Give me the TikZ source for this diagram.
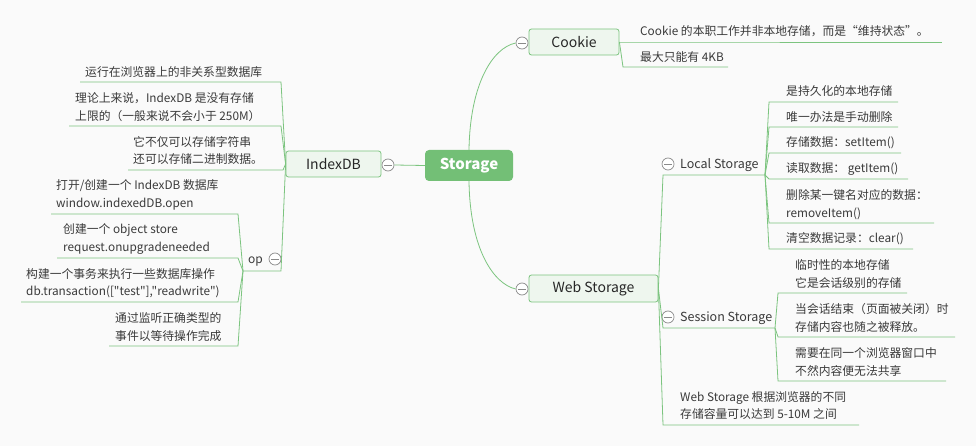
\documentclass[tikz,border=0pt]{standalone}
\usepackage{fontspec}
\setmainfont[Ligatures=TeXOff]{Noto Sans CJK SC}
\definecolor{lg}{HTML}{7CC47F}
\definecolor{nodefill}{HTML}{EEF6EE}
\definecolor{tx}{HTML}{3A3A3A}
\definecolor{stfill}{HTML}{73BF76}
\definecolor{bg}{HTML}{FAFAFA}
\definecolor{tg}{HTML}{8A8A8A}
\begin{document}
\begin{tikzpicture}[x=1pt,y=-1pt,
  ln/.style={draw=lg, line width=0.8pt},
  leaf/.style={anchor=west, inner sep=0pt, align=left, text=tx, font=\fontsize{11.8}{17.5}\selectfont},
  sub/.style={anchor=west, inner sep=0pt, text=tx, font=\fontsize{12.5}{15}\selectfont},
  topic/.style={draw=lg, fill=nodefill, rounded corners=2.5pt, line width=0.8pt, text=black!85, font=\fontsize{14}{16}\selectfont, inner sep=0pt},
  tog/.style={circle, draw=tg, fill=white, minimum size=12pt, inner sep=0pt, line width=0.7pt,
    path picture={\draw[tg, line width=0.7pt] ([xshift=-4pt]path picture bounding box.center) -- ([xshift=4pt]path picture bounding box.center);}}
]
\fill[bg] (0,0) rectangle (976,446);
\useasboundingbox (0,0) rectangle (976,446);

% central
\node[fill=stfill, rounded corners=4pt, minimum width=88pt, minimum height=31pt, inner sep=0pt, text=white, font=\fontsize{15}{17}\selectfont\bfseries] (st) at (469,165.5) {Storage};

% main topics
\node[topic, minimum width=95pt, minimum height=26pt] (idx) at (333.5,164) {IndexDB};
\node[topic, minimum width=90pt, minimum height=26pt] (ck) at (574,42) {Cookie};
\node[topic, minimum width=129pt, minimum height=27pt] (ws) at (593.5,288.5) {Web Storage};

\node[tog] (tIdx) at (388,165) {};
\node[tog] (tCk) at (522,43) {};
\node[tog] (tWs) at (522,289) {};

\draw[ln] (st.west) -- (tIdx.east);
\draw[ln] (st.north) .. controls (470,85) and (492,48) .. (tCk.west);
\draw[ln] (st.south) .. controls (470,250) and (494,284) .. (tWs.west);

% Cookie leaves
\coordinate (ck1a) at (621,42); \coordinate (ck1b) at (942,42);
\coordinate (ck2a) at (623,67); \coordinate (ck2b) at (728,67);
\node[leaf] (ck1) at (640,31) {Cookie 的本职工作并非本地存储，而是“维持状态”。};
\node[leaf] (ck2) at (640,57) {最大只能有 4KB};
\draw[ln] (ck.east) -- (ck1a) -- (ck1b);
\draw[ln] (ck.east) -- (ck2a) -- (ck2b);

% Local Storage
\node[tog] (tLs) at (668,164) {};
\node[sub] (ls) at (680,165) {Local Storage};
\coordinate (lsA) at (663,175); \coordinate (lsB) at (765,175);
\draw[ln] (ws.east) -- (lsA) -- (lsB);

\coordinate (l1a) at (769,102); \coordinate (l1b) at (898,102);
\coordinate (l2a) at (769,127); \coordinate (l2b) at (898,127);
\coordinate (l3a) at (769,153); \coordinate (l3b) at (901,153);
\coordinate (l4a) at (769,179); \coordinate (l4b) at (908,179);
\coordinate (l5a) at (769,223); \coordinate (l5b) at (934,223);
\coordinate (l6a) at (769,249); \coordinate (l6b) at (913,249);
\node[leaf] (l1) at (786,91) {是持久化的本地存储};
\node[leaf] (l2) at (786,117) {唯一办法是手动删除};
\node[leaf] (l3) at (786,143) {存储数据：setItem()};
\node[leaf] (l4) at (786,169) {读取数据： getItem()};
\node[leaf] (l5) at (786,204.5) {删除某一键名对应的数据：\\removeItem()};
\node[leaf] (l6) at (786,239) {清空数据记录：clear()};
\foreach \i in {1,...,6} {\draw[ln] (lsB) -- (l\i a) -- (l\i b);}

% Session Storage
\node[tog] (tSs) at (668,317) {};
\node[sub] (ss) at (680,318) {Session Storage};
\coordinate (ssA) at (663,328); \coordinate (ssB) at (775,328);
\draw[ln] (ws.east) -- (ssA) -- (ssB);

\coordinate (s1a) at (778,293); \coordinate (s1b) at (907,293);
\coordinate (s2a) at (778,337); \coordinate (s2b) at (955,337);
\coordinate (s3a) at (778,381); \coordinate (s3b) at (946,381);
\node[leaf] (s1) at (795,274) {临时性的本地存储\\它是会话级别的存储};
\node[leaf] (s2) at (795,318) {当会话结束（页面被关闭）时\\存储内容也随之被释放。};
\node[leaf] (s3) at (795,362) {需要在同一个浏览器窗口中\\不然内容便无法共享};
\foreach \i in {1,2,3} {\draw[ln] (ssB) -- (s\i a) -- (s\i b);}

% Web Storage leaf
\coordinate (w1a) at (663,425); \coordinate (w1b) at (859,425);
\node[leaf] (w1) at (680,405.5) {Web Storage 根据浏览器的不同\\存储容量可以达到 5-10M 之间};
\draw[ln] (ws.east) -- (w1a) -- (w1b);

% IndexDB leaves
\coordinate (i1a) at (80,82);  \coordinate (i1b) at (281,82);
\coordinate (i2a) at (69,126); \coordinate (i2b) at (281,126);
\coordinate (i3a) at (128,170); \coordinate (i3b) at (283,170);
\node[leaf] (i1) at (85,72) {运行在浏览器上的非关系型数据库};
\node[leaf] (i2) at (75,107) {理论上来说，IndexDB 是没有存储\\上限的（一般来说不会小于 250M）};
\node[leaf] (i3) at (133,150.5) {它不仅可以存储字符串\\还可以存储二进制数据。};
\foreach \i in {1,2,3} {\draw[ln] (idx.west) -- (i\i b) -- (i\i a);}

% op
\node[sub, font=\fontsize{12}{14}\selectfont] (op) at (248,262) {op};
\node[tog] (tOp) at (275,259) {};
\coordinate (opA) at (243,271); \coordinate (opB) at (281,271);
\draw[ln] (idx.west) -- (opB) -- (opA);

\coordinate (o1a) at (51,214);  \coordinate (o1b) at (238,214);
\coordinate (o2a) at (57,258);  \coordinate (o2b) at (238,258);
\coordinate (o3a) at (21,302);  \coordinate (o3b) at (238,302);
\coordinate (o4a) at (109,346); \coordinate (o4b) at (238,346);
\node[leaf] (o1) at (56,195) {打开/创建一个 IndexDB 数据库\\window.indexedDB.open};
\node[leaf] (o2) at (63,239) {创建一个 object store\\request.onupgradeneeded};
\node[leaf] (o3) at (26,283) {构建一个事务来执行一些数据库操作\\db.transaction(["test"],"readwrite")};
\node[leaf] (o4) at (115,327) {通过监听正确类型的\\事件以等待操作完成};
\foreach \i in {1,...,4} {\draw[ln] (opA) -- (o\i b) -- (o\i a);}
\end{tikzpicture}
\end{document}
